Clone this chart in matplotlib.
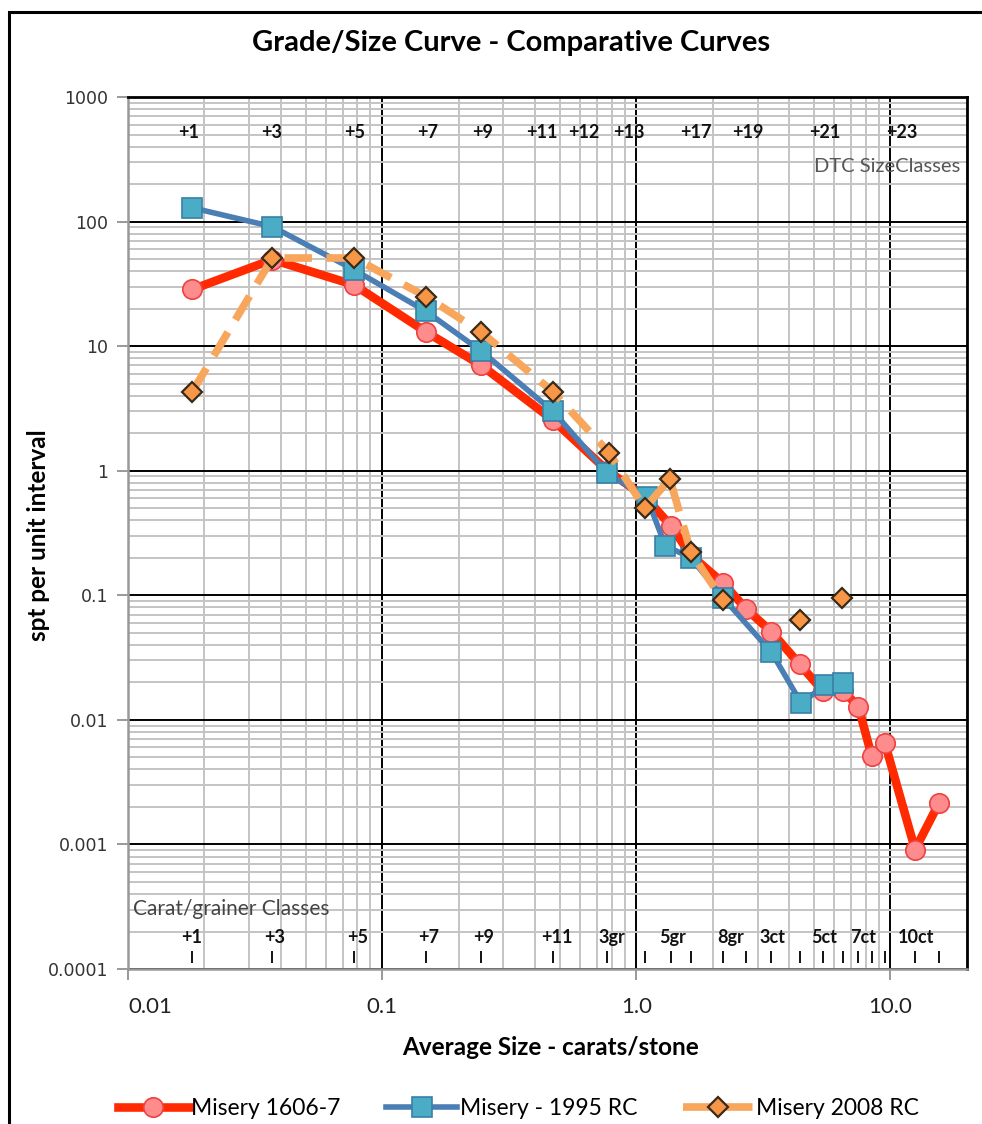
import numpy as np
import matplotlib
matplotlib.use("Agg")
import matplotlib.pyplot as plt
from matplotlib.patches import Rectangle

# ---------------- data ----------------
red_x = [0.0179, 0.037, 0.0776, 0.149, 0.246, 0.47, 0.77, 1.08, 1.37, 1.64, 2.2,
         2.70, 3.40, 4.39, 5.43, 6.52, 7.48, 8.44, 9.51, 12.5, 15.5]
red_y = [28.5, 49.5, 31, 13, 7.0, 2.55, 1.0, 0.62, 0.36, 0.21, 0.125,
         0.078, 0.051, 0.028, 0.017, 0.017, 0.0128, 0.0051, 0.0065, 0.00091, 0.00214]

blue_x = [0.0179, 0.037, 0.0776, 0.149, 0.246, 0.47, 0.77, 1.10, 1.30, 1.64, 2.2,
          3.40, 4.46, 5.51, 6.52]
blue_y = [129, 91, 41, 19, 9.1, 3.0, 0.95, 0.61, 0.25, 0.20, 0.095,
          0.035, 0.0136, 0.019, 0.0196]

orange_x = [0.0179, 0.037, 0.0776, 0.149, 0.246, 0.47, 0.78, 1.08, 1.355, 1.64, 2.19,
            3.40, 4.39, 5.43, 6.46]
orange_y = [4.3, 51, 51, 25, 12.9, 4.3, 1.40, 0.50, 0.86, 0.222, 0.091,
            np.nan, 0.063, np.nan, 0.095]

dtc_labels = ["+1", "+3", "+5", "+7", "+9", "+11", "+12", "+13", "+17", "+19", "+21", "+23"]
dtc_sizes = [0.01726, 0.0367, 0.0782, 0.1506, 0.2485, 0.425, 0.623, 0.938, 1.71, 2.75, 5.53, 11.05]

carat_labels = ["+1", "+3", "+5", "+7", "+9", "+11", "3gr", "5gr", "8gr", "3ct", "5ct", "7ct", "10ct"]
carat_sizes = [0.0178, 0.0378, 0.080, 0.152, 0.251, 0.485, 0.80, 1.387, 2.35, 3.42, 5.48, 7.82, 12.6]

x_ticks = [0.01, 0.1, 1.0, 10.0]
x_ticklabels = ["0.01", "0.1", "1.0", "10.0"]
y_ticks = [0.0001, 0.001, 0.01, 0.1, 1, 10, 100, 1000]
y_ticklabels = ["0.0001", "0.001", "0.01", "0.1", "1", "10", "100", "1000"]

series_names = ["Misery 1606-7", "Misery - 1995 RC", "Misery 2008 RC"]

# ---------------- styling ----------------
CAL = ["Lato", "DejaVu Sans"]
plt.rcParams["font.family"] = CAL

fig = plt.figure(figsize=(9.82, 11.24), dpi=100)
ax = fig.add_axes([0.1303, 0.1379, 0.8544, 0.7758])

ax.set_xscale("log")
ax.set_yscale("log")
ax.set_xlim(0.01, 20)
ax.set_ylim(0.0001, 1000)

# grid
ax.grid(which="minor", color="#c4c4c4", linewidth=1.4, zorder=0)
ax.grid(which="major", color="#000000", linewidth=1.4, zorder=0.5)
ax.set_axisbelow(True)

ax.set_xticks(x_ticks)
ax.set_xticklabels(x_ticklabels, fontsize=16, color="#222222")
ax.get_xticklabels()[0].set_horizontalalignment("left")
ax.set_yticks(y_ticks)
ax.set_yticklabels(y_ticklabels, fontsize=12.5, color="#333333", family="DejaVu Sans")
ax.tick_params(axis="both", which="major", length=8, width=1.2, color="#888888", pad=6)
ax.tick_params(axis="both", which="minor", length=0)
ax.tick_params(axis="x", pad=12)

for s in ["left", "bottom"]:
    ax.spines[s].set_color("#999999")
    ax.spines[s].set_linewidth(1.8)
for s in ["top", "right"]:
    ax.spines[s].set_color("#000000")
    ax.spines[s].set_linewidth(2.0)

# series
red_line, = ax.plot(red_x, red_y, color="#ff2a00", linewidth=6.2, marker="o",
                    markersize=14, markerfacecolor="#ff8c8c", markeredgecolor="#f04040",
                    markeredgewidth=1.2, zorder=3, solid_joinstyle="round")
blue_line, = ax.plot(blue_x, blue_y, color="#4a7eb4", linewidth=4, marker="s",
                     markersize=14, markerfacecolor="#4bacc6", markeredgecolor="#3a7fa6",
                     markeredgewidth=1.2, zorder=4)
orange_line, = ax.plot(orange_x, orange_y, color="#f8a65c", linewidth=5.5,
                       linestyle=(0, (3.6, 1.9)), marker="D", markersize=10,
                       markerfacecolor="#f79646", markeredgecolor="#3a2a18",
                       markeredgewidth=1.6, zorder=5)

# class labels
for lab, xv in zip(dtc_labels, dtc_sizes):
    ax.text(xv, 515, lab, ha="center", va="center", fontsize=13, fontweight="bold",
            color="#111111", zorder=6)
ax.text(18.9, 275, "DTC SizeClasses", ha="right", va="center", fontsize=14.5,
        color="#555555", zorder=6)

for lab, xv in zip(carat_labels, carat_sizes):
    ax.text(xv, 0.000178, lab, ha="center", va="center", fontsize=13, fontweight="bold",
            color="#111111", zorder=6)
ax.text(0.01046, 0.000304, "Carat/grainer Classes", ha="left", va="center", fontsize=15,
        color="#444444", zorder=6)
ax.vlines(red_x, 0.000112, 0.00014, color="#111111", linewidth=1.4, zorder=6)

# axis labels and title
ax.set_xlabel("Average Size - carats/stone", fontsize=17.5, fontweight="bold")
ax.xaxis.set_label_coords(0.504, -0.077)
ax.set_ylabel("spt per unit interval", fontsize=17.5, fontweight="bold")
ax.yaxis.set_label_coords(-0.093, 0.498)
fig.text(0.52, 0.962, "Grade/Size Curve - Comparative Curves", ha="center", va="center",
         fontsize=21, fontweight="bold")

# legend
fig.legend([red_line, blue_line, orange_line], series_names, loc="center",
           bbox_to_anchor=(0.528, 0.0142), ncol=3, frameon=False, fontsize=16.5,
           handlelength=3.1, handletextpad=0.1, columnspacing=2.0)

# outer frame
fig.patches.append(Rectangle((0.0095, -0.05), 1.2, 1.039, transform=fig.transFigure,
                             fill=False, edgecolor="black", linewidth=2.2))

fig.savefig("out.png", dpi=100)
